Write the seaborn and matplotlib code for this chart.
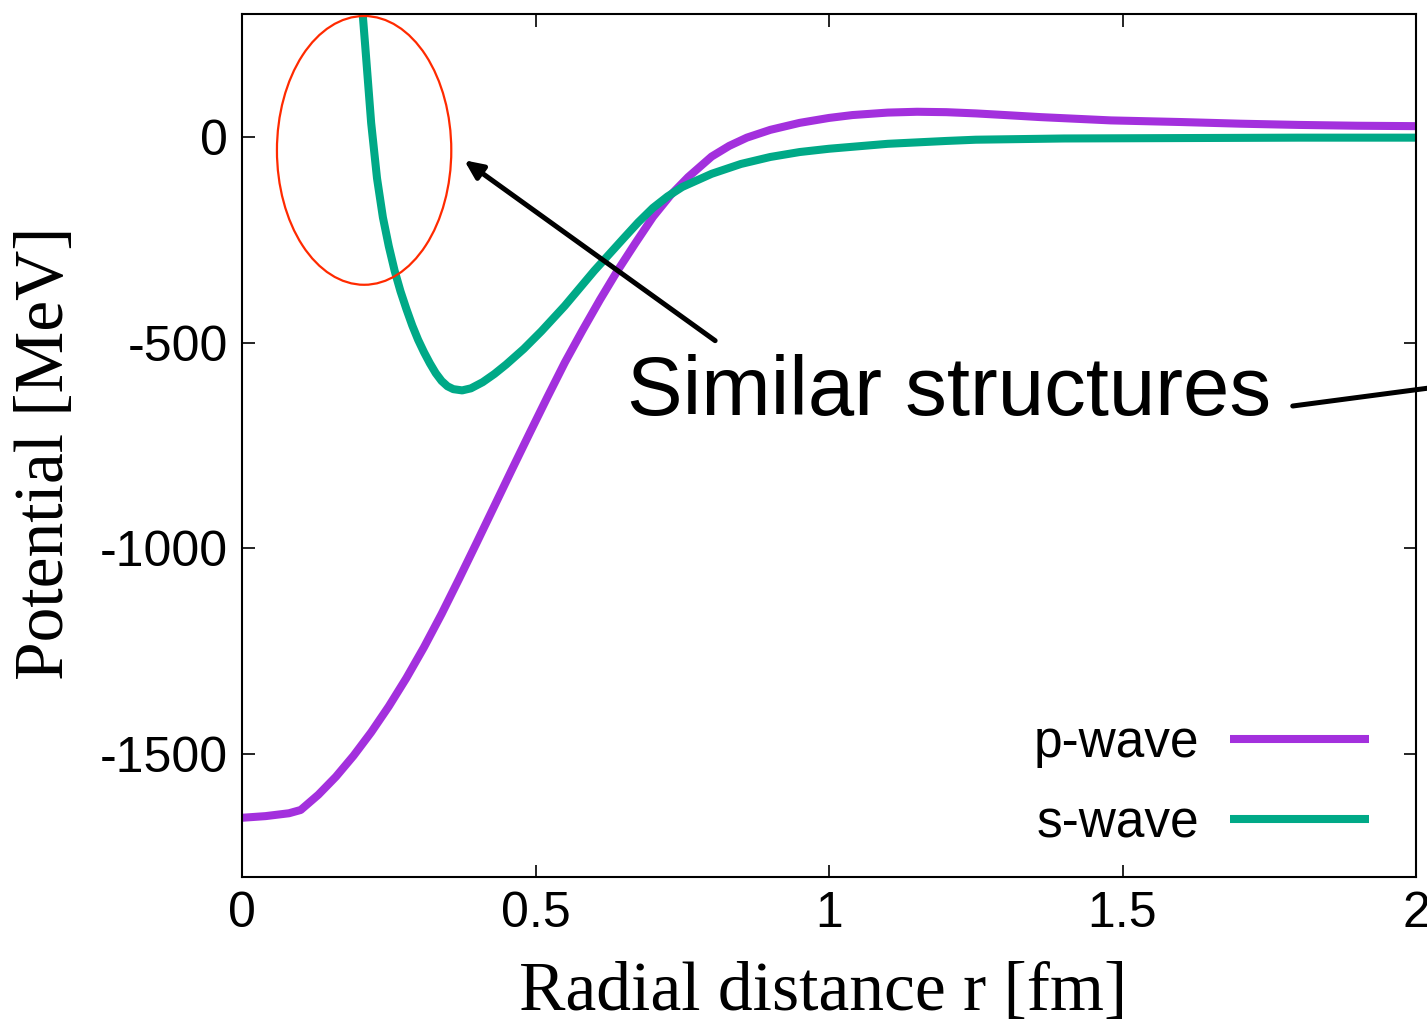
import numpy as np
import pandas as pd
import seaborn as sns
import matplotlib.pyplot as plt
from matplotlib.patches import Ellipse

# p-wave potential
r_p = [0.00, 0.04, 0.08, 0.10, 0.13, 0.16, 0.19, 0.22, 0.25, 0.28,
       0.31, 0.34, 0.37, 0.40, 0.43, 0.46, 0.49, 0.52, 0.55, 0.58,
       0.61, 0.64, 0.67, 0.70, 0.73, 0.76, 0.80, 0.83, 0.86, 0.90,
       0.95, 1.00, 1.04, 1.10, 1.15, 1.20, 1.25, 1.30, 1.36, 1.42,
       1.48, 1.54, 1.60, 1.70, 1.80, 1.90, 2.00]
v_p = [-1656, -1652, -1645, -1637, -1600, -1556, -1505, -1448, -1385, -1316,
       -1241, -1160, -1074, -986, -897, -808, -720, -633, -548, -470,
       -395, -324, -258, -194, -141, -97, -47, -21, -1, 18,
       35, 47, 54, 60, 62, 61, 58, 54, 49, 45,
       41, 39, 37, 33, 30, 28, 27]

# s-wave potential (starts above the top of the axes)
r_s = [0.19, 0.20, 0.21, 0.22, 0.23, 0.24, 0.25, 0.26, 0.27, 0.28,
       0.29, 0.30, 0.31, 0.32, 0.33, 0.34, 0.35, 0.36, 0.375, 0.39,
       0.41, 0.43, 0.45, 0.48, 0.51, 0.55, 0.60, 0.65, 0.675, 0.70,
       0.725, 0.75, 0.80, 0.85, 0.90, 0.95, 1.00, 1.05, 1.10, 1.20,
       1.25, 1.40, 1.60, 1.80, 2.00]
v_s = [600, 400, 220, 35, -100, -195, -265, -325, -375, -418,
       -458, -493, -523, -550, -574, -593, -606, -613, -616, -611,
       -596, -576, -553, -515, -472, -410, -325, -246, -207, -172,
       -144, -121, -89, -65, -48, -36, -28, -22, -16, -9,
       -6, -3, -2, -1, -1]

labels = ['p-wave', 's-wave']
colors = ['#a330dd', '#00a987']


def main():
    df = pd.concat([
        pd.DataFrame({'r': r_p, 'V': v_p, 'wave': labels[0]}),
        pd.DataFrame({'r': r_s, 'V': v_s, 'wave': labels[1]}),
    ])

    sns.set_style('ticks')
    plt.rcParams['font.family'] = ['Liberation Sans', 'DejaVu Sans']
    plt.rcParams['axes.unicode_minus'] = False
    plt.rcParams['text.color'] = 'black'
    plt.rcParams['axes.labelcolor'] = 'black'

    fig = plt.figure(figsize=(14.27, 10.19), dpi=100)
    ax = fig.add_axes([0.1696, 0.1394, 0.8227, 0.8469])

    sns.lineplot(data=df, x='r', y='V', hue='wave', hue_order=labels,
                 palette=colors, linewidth=5.8, sort=False, ax=ax,
                 solid_capstyle='butt')

    ax.set_xlim(0, 2)
    ax.set_ylim(-1800, 300)
    ax.set_xticks([0, 0.5, 1, 1.5, 2])
    ax.set_xticklabels(['0', '0.5', '1', '1.5', '2'])
    ax.set_yticks([0, -500, -1000, -1500])
    ax.tick_params(direction='in', length=9, width=1.2, labelsize=36,
                   top=True, right=True, pad=10, colors='black')
    for s in ax.spines.values():
        s.set_linewidth(1.5)
        s.set_color('black')

    serif = ['Liberation Serif', 'DejaVu Serif']
    ax.set_xlabel('Radial distance r [fm]', family=serif, fontsize=50, color='black')
    ax.set_ylabel('Potential [MeV]', family=serif, fontsize=50, color='black')
    ax.xaxis.set_label_coords(0.4953, -0.098)
    ax.yaxis.set_label_coords(-0.1397, 0.4913)

    # legend, gnuplot style: text first
    handles, _ = ax.get_legend_handles_labels()
    leg = ax.legend(handles, labels, loc='center', bbox_to_anchor=(0.817, 0.108),
                    frameon=False, markerfirst=False, fontsize=37,
                    handlelength=2.7, handletextpad=0.6, labelspacing=0.6,
                    borderpad=0)
    for line in leg.get_lines():
        line.set_linewidth(5.8)
    for t in leg.get_texts():
        t.set_color('black')

    # annotation
    ax.add_patch(Ellipse((0.208, -32), 0.297, 654, fill=False,
                         edgecolor='#ff2a00', linewidth=1.6, zorder=5))
    ax.annotate('', xy=(0.3785, -56), xytext=(0.806, -495),
                arrowprops=dict(arrowstyle='-|>,head_length=1.1,head_width=0.5',
                                color='black', linewidth=3.6,
                                shrinkA=0, shrinkB=0))
    ax.text(0.656, -622, 'Similar structures', fontsize=60,
            ha='left', va='center', color='black')
    ax.annotate('', xy=(2.05, -605), xytext=(1.79, -654),
                arrowprops=dict(arrowstyle='-', color='black', linewidth=3.6,
                                shrinkA=0, shrinkB=0),
                annotation_clip=False)

    fig.savefig('out.png', dpi=100)


if __name__ == '__main__':
    main()
